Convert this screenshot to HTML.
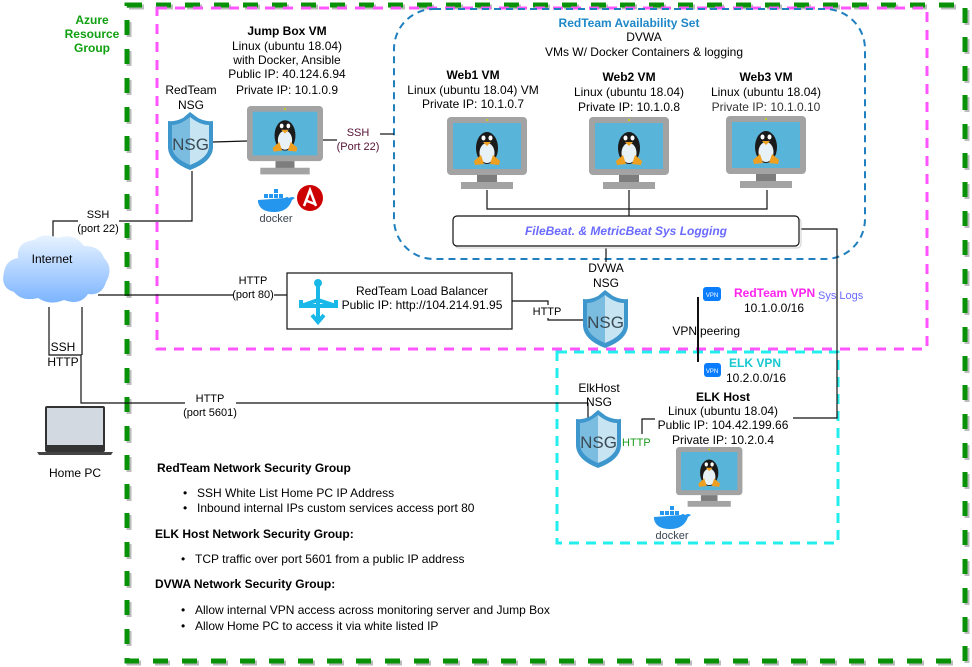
<!DOCTYPE html>
<html><head><meta charset="utf-8"><style>
html,body{margin:0;padding:0;background:#fff}
svg{display:block;font-family:"Liberation Sans",Arial,sans-serif}
</style></head><body>
<svg width="972" height="667" viewBox="0 0 972 667" xmlns="http://www.w3.org/2000/svg">
<defs>
<g id="mon">
<rect x="0" y="0" width="80" height="58" rx="4" fill="#a3a3a3"/>
<rect x="6" y="6" width="68" height="46" fill="#59b4d9"/>
<rect x="30" y="58" width="20" height="8" fill="#7d7d7d"/>
<rect x="14" y="65" width="52" height="7" fill="#a3a3a3"/>
<circle cx="40" cy="3" r="1" fill="#c8e000"/>
<ellipse cx="40" cy="31" rx="11" ry="16" fill="#1a1a1a"/>
<ellipse cx="40" cy="36" rx="7.5" ry="10" fill="#e8f1f6"/>
<ellipse cx="36.5" cy="21" rx="2" ry="2.5" fill="#fff"/><ellipse cx="43.5" cy="21" rx="2" ry="2.5" fill="#fff"/>
<path d="M36 25 L44 25 L40 29 Z" fill="#f0a020"/>
<path d="M27 44 L34 38 L37 47 L28 48 Z" fill="#f0a020"/>
<path d="M53 44 L46 38 L43 47 L52 48 Z" fill="#f0a020"/>
</g>
<g id="nsg">
<path d="M22 0 L30 6 Q38 10 45 9 L45 36 Q44 50 22 58 Q1 50 0 36 L0 9 Q7 10 15 6 Z" fill="#3d96cc"/>
<path d="M22 5 L22 53 Q5 46 4 35 L4 13 Q12 13 22 5 Z" fill="#7bbde0"/>
<path d="M22 5 Q32 13 41 13 L41 35 Q40 46 22 53 Z" fill="#c7e4f3"/>
<text x="22.5" y="38" font-size="17" text-anchor="middle" fill="#3a4a55">NSG</text>
</g>
<g id="dock">
<path d="M0 14 Q2 24 16 24 Q30 24 34 12 L37 10 Q34 8 31 10 Q29 8 27 10 L0 12 Z" fill="#2496ed"/>
<rect x="6" y="6" width="4" height="4" fill="#2496ed"/><rect x="11" y="6" width="4" height="4" fill="#2496ed"/><rect x="16" y="6" width="4" height="4" fill="#2496ed"/><rect x="16" y="1" width="4" height="4" fill="#2496ed"/><rect x="21" y="6" width="4" height="4" fill="#2496ed"/>
<text x="18" y="34" font-size="11" text-anchor="middle" fill="#3a4550">docker</text>
</g>
</defs>

<!-- containers -->
<rect x="127" y="5" width="838" height="656" fill="none" stroke="#bbb" stroke-width="5" stroke-dasharray="15 14" transform="translate(2,2)"/>
<rect x="127" y="5" width="838" height="656" fill="none" stroke="#079207" stroke-width="5" stroke-dasharray="15 14"/>
<rect x="157" y="8" width="770" height="341" fill="none" stroke="#ff55ff" stroke-width="3" stroke-dasharray="10 8"/>
<rect x="394" y="9" width="471" height="250" rx="40" fill="none" stroke="#1f7fbf" stroke-width="2" stroke-dasharray="7 5"/>
<rect x="557" y="352" width="281" height="191" fill="none" stroke="#22eeee" stroke-width="3" stroke-dasharray="10 7"/>

<text x="92" y="24" font-size="12" font-weight="bold" fill="#10a010" text-anchor="middle">Azure</text>
<text x="92" y="38" font-size="12" font-weight="bold" fill="#10a010" text-anchor="middle">Resource</text>
<text x="92" y="52" font-size="12" font-weight="bold" fill="#10a010" text-anchor="middle">Group</text>

<!-- connectors -->
<g stroke="#111" stroke-width="1.2" fill="none">
<path d="M213 142 L247 141"/>
<path d="M322 140 L337 140"/><path d="M380 134 L394 134"/>
<path d="M487 190 L487 209 L767 209 L767 190"/><path d="M629 190 L629 216"/>
<path d="M800 229 L837 229 L837 418 L793 418"/>
<path d="M606 250 L606 240 L626 240 L626 247"/><path d="M606 250 L606 262"/>
<path d="M53 237 L53 221 L78 221"/><path d="M119 221 L192 221 L192 171"/>
<path d="M98 295 L233 295"/><path d="M274 295 L290 295 L290 318"/>
<path d="M512 301 L548 301 L548 305"/><path d="M548 318 L548 320 L583 320"/>
<path d="M49 307 L49 355 L81 355 L81 403 L185 403"/><path d="M82 307 L82 355"/>
<path d="M236 403 L588 403 L588 440"/>
<path d="M655 419 L642 419 L642 434"/>
<path d="M698 297 L698 362" stroke-width="2"/>
</g>

<!-- Jump box -->
<text x="287" y="35" font-size="12" font-weight="bold" text-anchor="middle">Jump Box VM</text>
<text x="287" y="50" font-size="12" text-anchor="middle">Linux (ubuntu 18.04)</text>
<text x="287" y="64" font-size="12" text-anchor="middle">with Docker, Ansible</text>
<text x="287" y="78" font-size="12" text-anchor="middle">Public IP: 40.124.6.94</text>
<text x="287" y="94" font-size="12" text-anchor="middle">Private IP: 10.1.0.9</text>
<text x="191" y="94" font-size="12" text-anchor="middle">RedTeam</text>
<text x="191" y="109" font-size="12" text-anchor="middle">NSG</text>
<use href="#nsg" x="168" y="112"/>
<use href="#mon" x="247" y="106" transform="translate(247,106) scale(0.95) translate(-247,-106)"/>
<use href="#dock" x="258" y="188"/>
<circle cx="310" cy="198" r="13" fill="#cc0000"/>
<path d="M304 206 L310 190 L316 206 M307 201 L315 204" stroke="#fff" stroke-width="2.5" fill="none"/>
<text x="358" y="136" font-size="11" fill="#551133" text-anchor="middle">SSH</text>
<text x="358" y="150" font-size="11" fill="#551133" text-anchor="middle">(Port 22)</text>

<!-- availability set -->
<text x="629" y="27" font-size="12" font-weight="bold" fill="#1f88c8" text-anchor="middle">RedTeam Availability Set</text>
<text x="644" y="41" font-size="12" text-anchor="middle">DVWA</text>
<text x="644" y="56" font-size="12" text-anchor="middle">VMs W/ Docker Containers &amp; logging</text>
<text x="473" y="79" font-size="12" font-weight="bold" text-anchor="middle">Web1 VM</text>
<text x="473" y="94" font-size="12" text-anchor="middle">Linux (ubuntu 18.04) VM</text>
<text x="473" y="108" font-size="12" text-anchor="middle">Private IP: 10.1.0.7</text>
<text x="629" y="81" font-size="12" font-weight="bold" text-anchor="middle">Web2 VM</text>
<text x="629" y="96" font-size="12" text-anchor="middle">Linux (ubuntu 18.04)</text>
<text x="629" y="111" font-size="12" text-anchor="middle">Private IP: 10.1.0.8</text>
<text x="766" y="81" font-size="12" font-weight="bold" text-anchor="middle">Web3 VM</text>
<text x="766" y="96" font-size="12" text-anchor="middle">Linux (ubuntu 18.04)</text>
<text x="766" y="111" font-size="12" fill="#333" text-anchor="middle">Private IP: 10.1.0.10</text>
<use href="#mon" x="447" y="117"/>
<use href="#mon" x="589" y="117"/>
<use href="#mon" x="726" y="116"/>
<rect x="455" y="218" width="346" height="30" rx="4" fill="#fff" stroke="#ccc" stroke-width="1"/>
<rect x="453" y="216" width="346" height="30" rx="4" fill="#fff" stroke="#111" stroke-width="1.2"/>
<text x="626" y="235" font-size="12" font-weight="bold" font-style="italic" fill="#6a6aff" text-anchor="middle">FileBeat. &amp; MetricBeat  Sys Logging</text>

<!-- DVWA NSG & LB -->
<text x="606" y="272" font-size="12" text-anchor="middle">DVWA</text>
<text x="606" y="287" font-size="12" text-anchor="middle">NSG</text>
<use href="#nsg" x="583" y="290"/>
<text x="547" y="315" font-size="11" text-anchor="middle">HTTP</text>
<rect x="287" y="273" width="225" height="56" fill="#fff" stroke="#111" stroke-width="1.2"/>
<g stroke="#1ab8e8" stroke-width="4" fill="none">
<path d="M318 285 L318 319"/><path d="M301 300 L301 306 L336 306 L336 300"/><path d="M318 300 L301 306 M318 300 L336 306"/>
<path d="M312 315 L318 322 L324 315"/>
</g>
<circle cx="318" cy="283" r="4" fill="#1ab8e8"/>
<text x="422" y="295" font-size="12" text-anchor="middle">RedTeam Load Balancer</text>
<text x="422" y="309" font-size="12" text-anchor="middle">Public IP: http://104.214.91.95</text>
<text x="253" y="284" font-size="11" text-anchor="middle">HTTP</text>
<text x="253" y="298" font-size="11" text-anchor="middle">(port 80)</text>

<!-- Internet -->
<defs><linearGradient id="cg" x1="0" y1="0" x2="0" y2="1"><stop offset="0" stop-color="#e8f3ff"/><stop offset="1" stop-color="#7cb4ff"/></linearGradient></defs>
<path d="M14 292 Q0 288 4 272 Q6 260 18 258 Q16 242 34 240 Q44 232 58 238 Q74 232 84 246 Q100 246 104 258 Q114 268 106 282 Q102 296 88 294 Q80 306 64 300 Q50 306 38 298 Q22 302 14 292 Z" fill="url(#cg)"/>
<text x="52" y="263" font-size="12" text-anchor="middle">Internet</text>
<text x="98" y="218" font-size="11" text-anchor="middle">SSH</text>
<text x="98" y="232" font-size="11" text-anchor="middle">(port 22)</text>
<text x="63" y="351" font-size="12" text-anchor="middle">SSH</text>
<text x="63" y="366" font-size="12" text-anchor="middle">HTTP</text>
<text x="210" y="402" font-size="11" text-anchor="middle">HTTP</text>
<text x="210" y="416" font-size="11" text-anchor="middle">(port 5601)</text>

<!-- laptop -->
<rect x="45" y="406" width="60" height="46" rx="2" fill="#333"/>
<rect x="47" y="408" width="56" height="37" fill="#d3d9e0"/>
<path d="M37 452 L113 452 L111 455 L39 455 Z" fill="#444"/>
<text x="75" y="477" font-size="12" text-anchor="middle">Home PC</text>

<!-- VPN -->
<rect x="703" y="287" width="18" height="14" rx="3" fill="#0a7cff"/><text x="712" y="297" font-size="6" fill="#fff" text-anchor="middle">VPN</text>
<text x="734" y="297" font-size="12" font-weight="bold" fill="#ff22ee">RedTeam VPN</text>
<text x="818" y="299" font-size="11" fill="#6a6aff">Sys Logs</text>
<text x="774" y="312" font-size="12" text-anchor="middle">10.1.0.0/16</text>
<rect x="670" y="326" width="27" height="11" fill="#fff"/>
<text x="697" y="335" font-size="12" text-anchor="end">VPN</text>
<text x="700" y="335" font-size="12">peering</text>
<rect x="704" y="363" width="17" height="14" rx="3" fill="#0a7cff"/><text x="712" y="373" font-size="6" fill="#fff" text-anchor="middle">VPN</text>
<text x="729" y="367" font-size="12" font-weight="bold" fill="#18c8d0">ELK VPN</text>
<text x="756" y="382" font-size="12" text-anchor="middle">10.2.0.0/16</text>

<!-- ELK host -->
<text x="599" y="392" font-size="12" text-anchor="middle">ElkHost</text>
<text x="599" y="406" font-size="12" text-anchor="middle">NSG</text>
<use href="#nsg" x="576" y="410"/>
<text x="622" y="446" font-size="11" fill="#1a9a1a">HTTP</text>
<text x="723" y="401" font-size="12" font-weight="bold" text-anchor="middle">ELK Host</text>
<text x="723" y="415" font-size="12" text-anchor="middle">Linux (ubuntu 18.04)</text>
<text x="723" y="429" font-size="12" text-anchor="middle">Public IP: 104.42.199.66</text>
<text x="723" y="444" font-size="12" text-anchor="middle">Private IP: 10.2.0.4</text>
<use href="#mon" transform="translate(676,447) scale(0.83)"/>
<use href="#dock" x="654" y="505"/>

<!-- notes -->
<text x="157" y="472" font-size="12" font-weight="bold">RedTeam Network Security Group</text>
<text x="183" y="497" font-size="12">•</text><text x="197" y="497" font-size="12">SSH White List Home PC IP Address</text>
<text x="183" y="512" font-size="12">•</text><text x="197" y="512" font-size="12">Inbound internal IPs custom services access port 80</text>
<text x="155" y="538" font-size="12" font-weight="bold">ELK Host Network Security Group:</text>
<text x="181" y="563" font-size="12">•</text><text x="195" y="563" font-size="12">TCP traffic over port 5601 from a public IP address</text>
<text x="155" y="588" font-size="12" font-weight="bold">DVWA Network Security Group:</text>
<text x="181" y="614" font-size="12">•</text><text x="195" y="614" font-size="12">Allow internal VPN access across monitoring server and Jump Box</text>
<text x="181" y="630" font-size="12">•</text><text x="195" y="630" font-size="12">Allow Home PC to access it via white listed IP</text>
</svg>
</body></html>
